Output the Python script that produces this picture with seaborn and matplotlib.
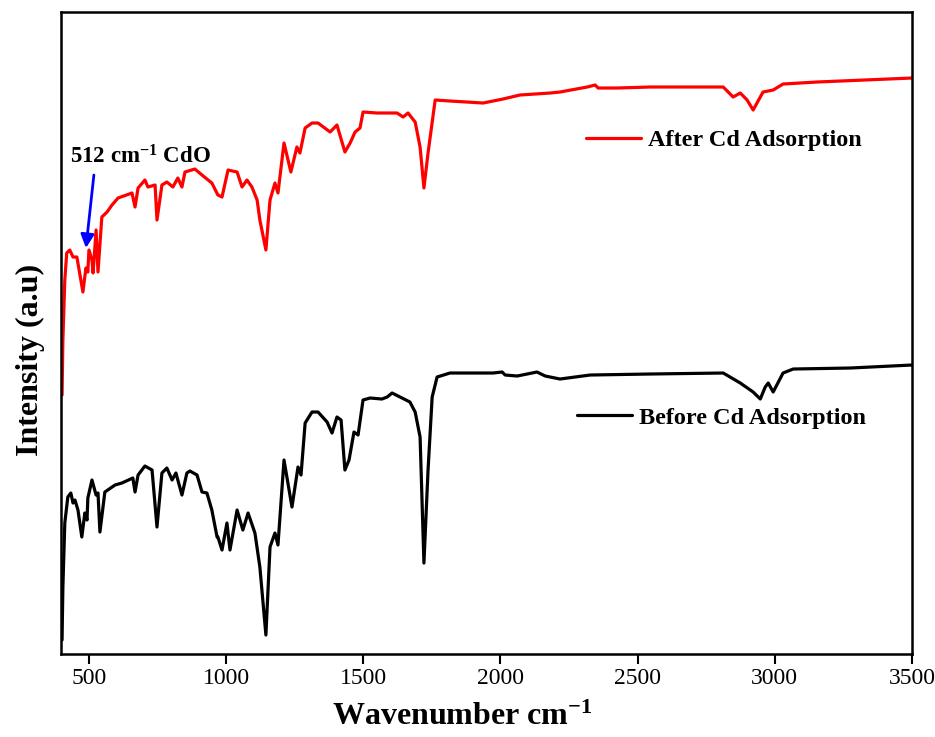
import numpy as np
import pandas as pd
import seaborn as sns
import matplotlib.pyplot as plt
from matplotlib.lines import Line2D

# ---------------- data ----------------
before_wn = [402, 405, 412, 423, 434, 442, 449, 460, 474, 485, 493, 496, 511, 526, 533, 540,
             558, 595, 620, 660, 668, 679, 704, 730, 748, 766, 784, 803, 817, 824, 839, 857,
             868, 894, 912, 930, 948, 967, 970, 985, 1003, 1014, 1040, 1061, 1080, 1105, 1123,
             1145, 1160, 1178, 1189, 1211, 1240, 1262, 1273, 1288, 1313, 1335, 1368, 1386, 1404,
             1419, 1433, 1448, 1466, 1481, 1499, 1525, 1568, 1587, 1605, 1634, 1670, 1689, 1707,
             1721, 1736, 1751, 1769, 1816, 1973, 2006, 2017, 2061, 2133, 2163, 2217, 2327, 2545,
             2812, 2874, 2921, 2947, 2965, 2976, 2994, 3030, 3067, 3275, 3500]
before_int = [14, 67, 131, 157, 161, 151, 154, 144, 117, 141, 134, 156, 174, 159, 161, 122,
              162, 169, 171, 176, 162, 179, 188, 184, 127, 181, 186, 174, 181, 174, 159, 181,
              183, 179, 162, 161, 144, 117, 117, 104, 131, 104, 144, 124, 141, 121, 87,
              19, 107, 121, 109, 194, 147, 187, 179, 231, 242, 242, 232, 221, 237,
              234, 184, 194, 222, 219, 254, 256, 255, 257, 261, 257, 252, 242, 217,
              91, 184, 257, 277, 281, 281, 282, 279, 278, 282, 278, 275, 279, 280,
              281, 271, 262, 255, 267, 271, 262, 281, 285, 286, 289]

after_wn = [402, 405, 412, 419, 430, 442, 456, 478, 489, 496, 500, 511, 515, 526, 533, 547,
            566, 584, 606, 657, 668, 679, 704, 715, 741, 748, 766, 784, 806, 824, 839, 850,
            886, 912, 948, 970, 985, 1007, 1040, 1058, 1076, 1094, 1113, 1123, 1145, 1160,
            1178, 1189, 1211, 1236, 1258, 1269, 1288, 1313, 1335, 1379, 1404, 1433, 1452, 1470,
            1488, 1499, 1550, 1623, 1645, 1663, 1689, 1707, 1721, 1736, 1762, 1816, 1937, 2009,
            2071, 2181, 2217, 2316, 2345, 2356, 2425, 2545, 2812, 2848, 2874, 2899, 2921, 2957,
            2994, 3030, 3154, 3500]
after_int = [259, 314, 374, 401, 404, 397, 397, 362, 386, 382, 404, 394, 381, 424, 382, 437,
             442, 449, 456, 461, 447, 466, 474, 467, 469, 434, 469, 472, 467, 476, 467, 482,
             485, 479, 471, 459, 457, 484, 482, 467, 474, 467, 454, 434, 404, 454,
             471, 461, 511, 482, 507, 501, 526, 531, 531, 522, 529, 502, 511, 522,
             526, 542, 541, 541, 537, 541, 532, 507, 466, 501, 554, 553, 551, 555,
             559, 561, 562, 567, 569, 566, 566, 567, 567, 557, 561, 554, 544, 562,
             564, 570, 572, 576]

x_ticks = [500, 1000, 1500, 2000, 2500, 3000, 3500]
label_after = "After Cd Adsorption"
label_before = "Before Cd Adsorption"
annot_text = "512 cm$^{-1}$ CdO"
annot_tip = (489, 406)
annot_tail = (518, 479)
annot_text_pos = (431, 491)

# ---------------- style ----------------
sns.set_style("ticks")
plt.rcParams['font.family'] = ['Liberation Serif', 'DejaVu Serif']
plt.rcParams['text.color'] = 'black'
plt.rcParams['axes.labelcolor'] = 'black'
plt.rcParams['xtick.color'] = 'black'
plt.rcParams['mathtext.fontset'] = 'custom'
plt.rcParams['mathtext.rm'] = 'Liberation Serif:bold'
plt.rcParams['mathtext.it'] = 'Liberation Serif:bold'
plt.rcParams['mathtext.bf'] = 'Liberation Serif:bold'
plt.rcParams['mathtext.default'] = 'rm'

fig = plt.figure(figsize=(9.35, 7.37), dpi=100)
ax = fig.add_axes([0.0652, 0.1126, 0.9102, 0.8711])

df_after = pd.DataFrame({"wn": after_wn, "I": after_int})
df_before = pd.DataFrame({"wn": before_wn, "I": before_int})
sns.lineplot(data=df_after, x="wn", y="I", ax=ax, color="#ff0000", lw=2.3,
             sort=False, estimator=None)
sns.lineplot(data=df_before, x="wn", y="I", ax=ax, color="black", lw=2.3,
             sort=False, estimator=None)

ax.set_xlim(398, 3500)
ax.set_ylim(0, 642)
ax.set_xticks(x_ticks)
ax.set_yticks([])
ax.tick_params(axis='x', direction='out', length=7, width=1.5, labelsize=17, pad=3,
               colors='black')
for lab in ax.get_xticklabels():
    lab.set_fontweight('normal')
for sp in ax.spines.values():
    sp.set_linewidth(1.8)
    sp.set_color('black')

ax.set_xlabel("Wavenumber cm$^{-1}$", fontsize=23, fontweight='bold')
ax.xaxis.set_label_coords(0.472, -0.076)
ax.set_ylabel("Intensity (a.u)", fontsize=23, fontweight='bold')
ax.yaxis.set_label_coords(-0.019, 0.458)

# legends
h_after = Line2D([], [], color="#ff0000", lw=2.3)
h_before = Line2D([], [], color="black", lw=2.3)
leg1 = ax.legend([h_after], [label_after], loc='center left', bbox_to_anchor=(0.617, 0.80),
                 frameon=False, borderpad=0, borderaxespad=0, handlelength=2.26,
                 handletextpad=0.3, prop={'size': 17.5, 'weight': 'bold'})
ax.add_artist(leg1)
ax.legend([h_before], [label_before], loc='center left', bbox_to_anchor=(0.606, 0.368),
          frameon=False, borderpad=0, borderaxespad=0, handlelength=2.26,
          handletextpad=0.3, prop={'size': 17.5, 'weight': 'bold'})

# annotation
ax.annotate("", xy=annot_tip, xytext=annot_tail,
            arrowprops=dict(arrowstyle='-|>', color='blue', lw=2, mutation_scale=20,
                            shrinkA=0, shrinkB=0))
ax.text(annot_text_pos[0], annot_text_pos[1], annot_text, fontsize=16.5, fontweight='bold',
        ha='left', va='baseline')

fig.savefig("out.png", dpi=100)
